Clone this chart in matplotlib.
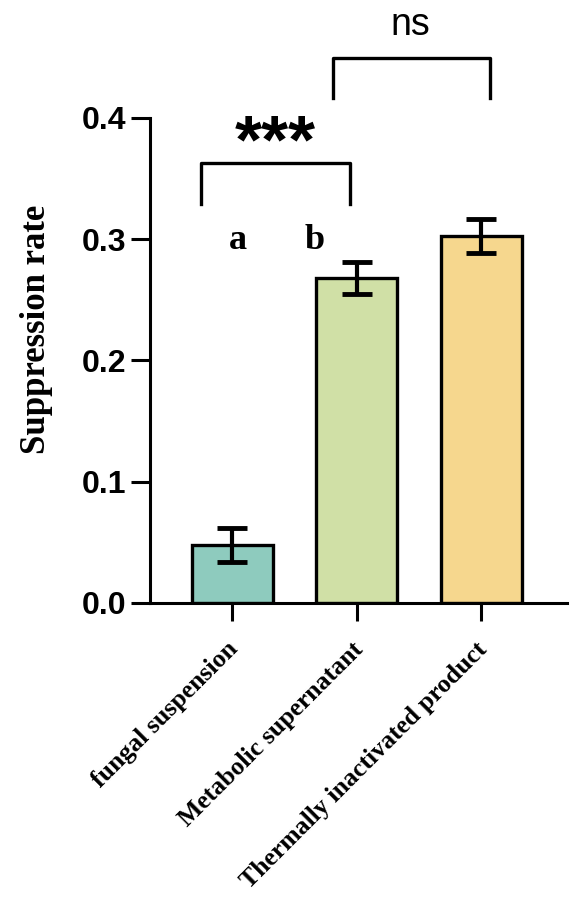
import matplotlib.pyplot as plt
from matplotlib.transforms import ScaledTranslation

groups = ["fungal suspension", "Metabolic supernatant", "Thermally inactivated product"]
means = [0.048, 0.268, 0.303]
errors = [0.014, 0.013, 0.014]
colors = ["#8ECBBE", "#D0E0A6", "#F6D78E"]

fig = plt.figure(figsize=(5.7, 9), dpi=100)
ax = fig.add_axes([0.263, 0.33, 0.732, 0.539])

x = list(range(len(groups)))
ax.bar(x, means, width=0.65, color=colors, edgecolor="black", linewidth=2.4, zorder=2)
ax.errorbar(x, means, yerr=errors, fmt="none", ecolor="black", elinewidth=3,
            capsize=11, capthick=3.5, zorder=3)

ax.set_xlim(-0.66, 2.69)
ax.set_ylim(0, 0.4)
ax.set_yticks([0.0, 0.1, 0.2, 0.3, 0.4])
ax.set_yticklabels(["0.0", "0.1", "0.2", "0.3", "0.4"], family="Liberation Sans",
                   fontweight="bold", fontsize=23)
ax.set_xticks(x)
ax.set_xticklabels(groups, rotation=45, ha="right", rotation_mode="anchor",
                   family="Liberation Serif", fontweight="bold", fontsize=18.5)
ax.tick_params(axis="y", length=14, width=2.2, pad=3)
ax.tick_params(axis="x", length=13, width=2.2, pad=8)

# nudge the rotated labels down-left a little
shift = ScaledTranslation(-4 / 72, -4 / 72, fig.dpi_scale_trans)
for lab in ax.get_xticklabels():
    lab.set_transform(lab.get_transform() + shift)

for s in ["top", "right"]:
    ax.spines[s].set_visible(False)
for s in ["left", "bottom"]:
    ax.spines[s].set_linewidth(2.2)

ax.set_ylabel("Suppression rate", family="Liberation Serif", fontweight="bold",
              fontsize=25)
ax.yaxis.set_label_coords(-0.233, 0.565)

# significance brackets
ax.plot([-0.25, -0.25, 0.95, 0.95], [0.329, 0.363, 0.363, 0.329], color="black",
        lw=2.4, clip_on=False)
ax.text(0.35, 0.363, "***", ha="center", va="baseline", fontsize=50,
        fontweight="bold", family="Liberation Sans")
ax.plot([0.81, 0.81, 2.07, 2.07], [0.416, 0.449, 0.449, 0.416], color="black",
        lw=2.4, clip_on=False)
ax.text(1.43, 0.468, "ns", ha="center", va="baseline", fontsize=27,
        family="Liberation Sans", clip_on=False)

ax.text(0.05, 0.292, "a", ha="center", va="baseline", fontsize=26,
        fontweight="bold", family="Liberation Serif")
ax.text(0.66, 0.292, "b", ha="center", va="baseline", fontsize=26,
        fontweight="bold", family="Liberation Serif")

fig.savefig("out.png", dpi=100)
